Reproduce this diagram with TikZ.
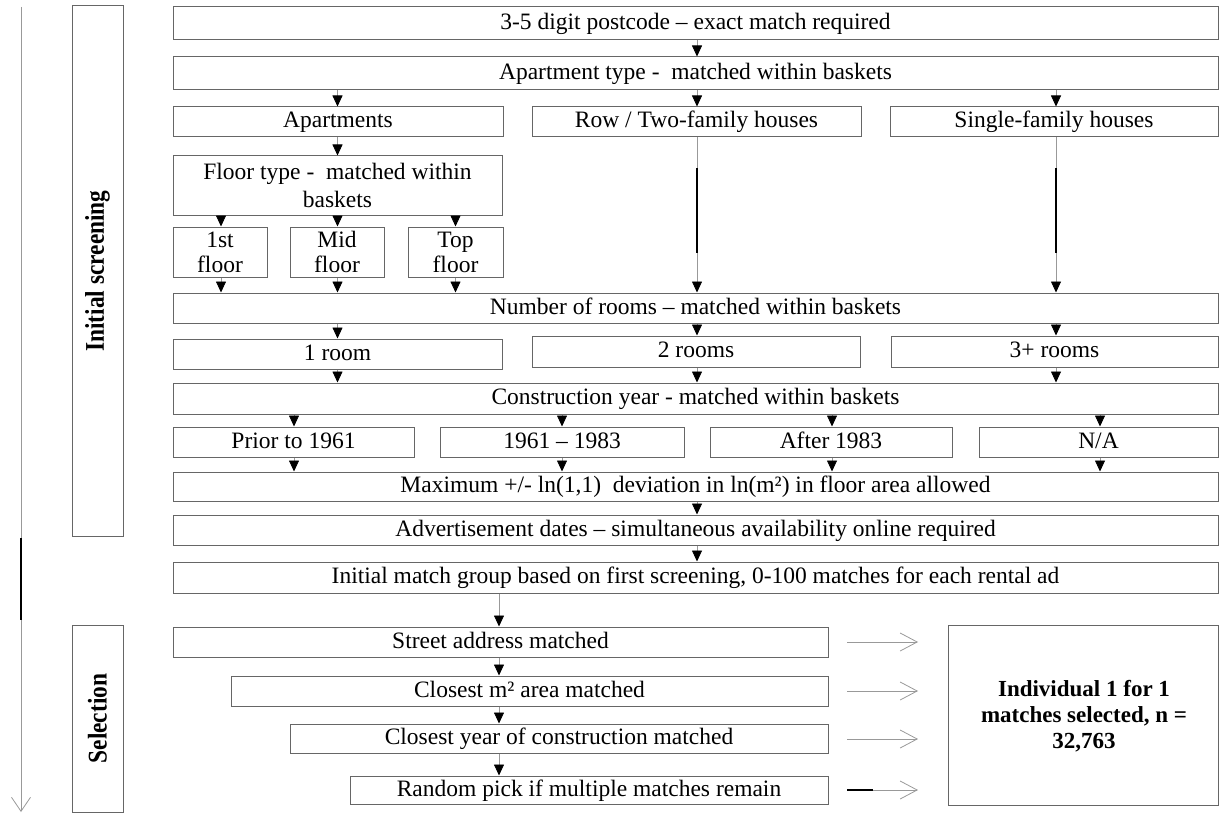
\documentclass[tikz,border=0pt]{standalone}
\usepackage{fontspec}
\setmainfont{Liberation Serif}
\newfontfamily\sidefont{Liberation Serif}[FakeStretch=0.866]
\usetikzlibrary{arrows.meta}
\begin{document}
\begin{tikzpicture}[x=1pt,y=-1pt,
  box/.style={draw=black!60, line width=1pt, inner sep=0pt, align=center, font=\fontsize{23.5}{28}\selectfont},
  sbox/.style={box, text height=17pt, text depth=5pt},
  twoline/.style={font=\fontsize{23.5}{25}\selectfont},
  bigtext/.style={align=center, font=\bfseries\fontsize{23}{26}\selectfont},
  side/.style={rotate=90, font=\sidefont\bfseries\fontsize{27}{30}\selectfont},
  arr/.style={draw=black!40, line width=0.8pt, -{Triangle[length=11pt,width=10pt,color=black]}},
  harr/.style={draw=black!40, line width=0.8pt, -{Straight Barb[length=17pt,width=18pt]}},
  blk/.style={draw=black, line width=1.3pt},
]
\useasboundingbox (0,0) rectangle (1220,813);

% guide coordinates
\coordinate (g220) at (221,0);
\coordinate (g338) at (337.5,0);
\coordinate (g455) at (455.5,0);
\coordinate (g697) at (697,0);
\coordinate (g1056) at (1056,0);
\coordinate (g294) at (294,0);
\coordinate (g562) at (562,0);
\coordinate (g832) at (832,0);
\coordinate (g1100) at (1100,0);
\coordinate (g499) at (499,0);

% side labels and timeline
\coordinate (t0) at (21,7);
\coordinate (t1) at (21,812);
\coordinate (k0) at (21,538);
\coordinate (k1) at (21,620);
\draw[draw=black!40, line width=0.8pt, -{Straight Barb[length=14pt,width=19pt]}] (t0) -- (t1);
\draw[blk, line width=1.5pt] (k0) -- (k1);

\node[box, minimum width=51pt, minimum height=530pt] (scr) at (97.5,271) {};
\node[side] (scrl) at (scr.center) {Initial screening};
\node[box, minimum width=51pt, minimum height=187pt] (sel) at (97.5,718.5) {};
\node[side] (sell) at (sel.center) {Selection};

% screening boxes
\node[sbox, minimum width=1045pt, minimum height=33pt] (b1) at (695.5,23.5) {3-5 digit postcode -- exact match required};
\node[sbox, minimum width=1045pt, minimum height=33pt] (b2) at (695.5,73.5) {Apartment type - \ matched within baskets};
\node[sbox, minimum width=330pt, minimum height=30pt] (apt) at (338,122) {Apartments};
\node[sbox, minimum width=329pt, minimum height=30pt] (row) at (696.5,122) {Row / Two-family houses};
\node[sbox, minimum width=328pt, minimum height=30pt] (sgl) at (1054,122) {Single-family houses};
\node[box, minimum width=329pt, minimum height=59pt] (flr) at (337.5,185.5) {Floor type - \ matched within\\baskets};
\node[box, twoline, minimum width=94pt, minimum height=50pt] (f1) at (220,252) {1st\\floor};
\node[box, twoline, minimum width=94pt, minimum height=50pt] (f2) at (337,252) {Mid\\floor};
\node[box, twoline, minimum width=95pt, minimum height=50pt] (f3) at (455.5,252) {Top\\floor};
\node[sbox, minimum width=1045pt, minimum height=30pt] (rooms) at (695.5,308) {Number of rooms -- matched within baskets};
\node[sbox, minimum width=329pt, minimum height=30pt] (r1) at (337.5,354) {1 room};
\node[sbox, minimum width=328pt, minimum height=31pt] (r2) at (696,351.5) {2 rooms};
\node[sbox, minimum width=327pt, minimum height=31pt] (r3) at (1054.5,351.5) {3+ rooms};
\node[sbox, minimum width=1045pt, minimum height=31pt] (cy) at (695.5,398.5) {Construction year - matched within baskets};
\node[sbox, minimum width=241pt, minimum height=30pt] (y1) at (293.5,442) {Prior to 1961};
\node[sbox, minimum width=244pt, minimum height=30pt] (y2) at (562,442) {1961 -- 1983};
\node[sbox, minimum width=242pt, minimum height=30pt] (y3) at (831,442) {After 1983};
\node[sbox, minimum width=239pt, minimum height=30pt] (y4) at (1098.5,442) {N/A};
\node[sbox, minimum width=1045pt, minimum height=29pt] (mx) at (695.5,486.5) {Maximum +/- ln(1,1) \ deviation in ln(m²) in floor area allowed};
\node[sbox, minimum width=1045pt, minimum height=30pt] (adv) at (695.5,530) {Advertisement dates -- simultaneous availability online required};
\node[sbox, minimum width=1045pt, minimum height=31pt] (ini) at (695.5,577.5) {Initial match group based on first screening, 0-100 matches for each rental ad};

% selection boxes
\node[sbox, minimum width=655pt, minimum height=30pt] (st) at (500.5,642) {Street address matched};
\node[sbox, minimum width=597pt, minimum height=30pt] (m2) at (529.5,691) {Closest m² area matched};
\node[sbox, minimum width=538pt, minimum height=29pt] (yr) at (559,738.5) {Closest year of construction matched};
\node[sbox, minimum width=478pt, minimum height=28pt] (rp) at (589,790) {Random pick if multiple matches remain};
\node[box, minimum width=270pt, minimum height=180pt] (big) at (1083,715) {};
\node[bigtext] (bigl) at (1084,716) {Individual 1 for 1\\matches selected, n =\\32,763};

% vertical arrows
\draw[arr] (b1.south -| g697) -- (b2.north -| g697);
\draw[arr] (b2.south -| g338) -- (apt.north -| g338);
\draw[arr] (b2.south -| g697) -- (row.north -| g697);
\draw[arr] (b2.south -| g1056) -- (sgl.north -| g1056);
\draw[arr] (apt.south -| g338) -- (flr.north -| g338);
\draw[arr] (flr.south -| g220) -- (f1.north -| g220);
\draw[arr] (flr.south -| g338) -- (f2.north -| g338);
\draw[arr] (flr.south -| g455) -- (f3.north -| g455);
\draw[arr] (f1.south -| g220) -- (rooms.north -| g220);
\draw[arr] (f2.south -| g338) -- (rooms.north -| g338);
\draw[arr] (f3.south -| g455) -- (rooms.north -| g455);
\draw[arr] (row.south -| g697) -- (rooms.north -| g697);
\draw[arr] (sgl.south -| g1056) -- (rooms.north -| g1056);
\draw[blk] (row.south -| g697) ++(0,31) -- ++(0,84);
\draw[blk] (sgl.south -| g1056) ++(0,31) -- ++(0,84);
\draw[arr] (rooms.south -| g338) -- (r1.north -| g338);
\draw[arr] (rooms.south -| g697) -- (r2.north -| g697);
\draw[arr] (rooms.south -| g1056) -- (r3.north -| g1056);
\draw[arr] (r1.south -| g338) -- (cy.north -| g338);
\draw[arr] (r2.south -| g697) -- (cy.north -| g697);
\draw[arr] (r3.south -| g1056) -- (cy.north -| g1056);
\draw[arr] (cy.south -| g294) -- (y1.north -| g294);
\draw[arr] (cy.south -| g562) -- (y2.north -| g562);
\draw[arr] (cy.south -| g832) -- (y3.north -| g832);
\draw[arr] (cy.south -| g1100) -- (y4.north -| g1100);
\draw[arr] (y1.south -| g294) -- (mx.north -| g294);
\draw[arr] (y2.south -| g562) -- (mx.north -| g562);
\draw[arr] (y3.south -| g832) -- (mx.north -| g832);
\draw[arr] (y4.south -| g1100) -- (mx.north -| g1100);
\draw[arr] (mx.south -| g697) -- (adv.north -| g697);
\draw[arr] (adv.south -| g697) -- (ini.north -| g697);
\draw[arr] (ini.south -| g499) -- (st.north -| g499);
\draw[arr] (st.south -| g499) -- (m2.north -| g499);
\draw[arr] (m2.south -| g499) -- (yr.north -| g499);
\draw[arr] (yr.south -| g499) -- (rp.north -| g499);

% horizontal arrows
\coordinate (h1) at (847,642);
\coordinate (h1e) at (918,642);
\coordinate (h2) at (847,691);
\coordinate (h2e) at (918,691);
\coordinate (h3) at (847,739);
\coordinate (h3e) at (918,739);
\coordinate (h4) at (847,790);
\coordinate (h4e) at (918,790);
\coordinate (h4k) at (873,790);
\draw[harr] (h1) -- (h1e);
\draw[harr] (h2) -- (h2e);
\draw[harr] (h3) -- (h3e);
\draw[harr] (h4) -- (h4e);
\draw[blk] (h4) -- (h4k);
\end{tikzpicture}
\end{document}
